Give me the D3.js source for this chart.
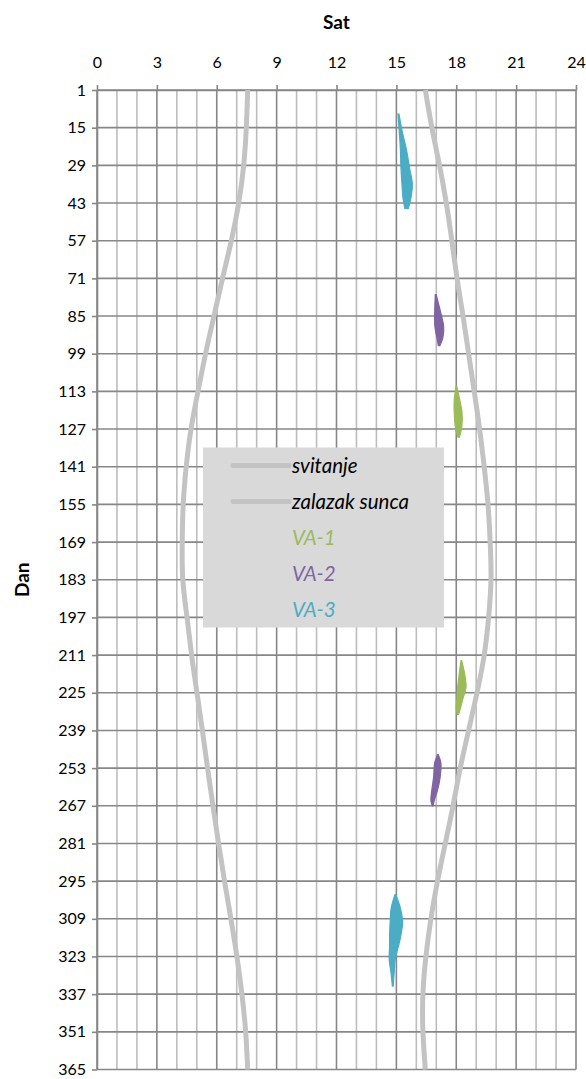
<!DOCTYPE html>
<html>
<head>
<meta charset="utf-8">
<script src="https://cdn.jsdelivr.net/npm/d3@7"></script>
<style>
  html, body { margin: 0; padding: 0; background: #fff; }
  svg { display: block; }
  text { font-family: Lato, "Open Sans", sans-serif; }
</style>
</head>
<body>
<svg id="chart" width="586" height="1079"></svg>
<script>
// ---- data ----
const hourTicks = [0, 3, 6, 9, 12, 15, 18, 21, 24];
const days = [1, 15, 29, 43, 57, 71, 85, 99, 113, 127, 141, 155, 169, 183, 197, 211, 225, 239, 253, 267, 281, 295, 309, 323, 337, 351, 365];
const sunrise = [7.55, 7.48, 7.35, 7.10, 6.73, 6.29, 5.86, 5.44, 5.06, 4.71, 4.47, 4.32, 4.27, 4.30, 4.51, 4.74, 5.01, 5.28, 5.54, 5.81, 6.09, 6.39, 6.71, 7.01, 7.26, 7.45, 7.55];
const sunset = [16.45, 16.78, 17.16, 17.50, 17.78, 18.04, 18.34, 18.62, 18.90, 19.17, 19.40, 19.59, 19.70, 19.74, 19.62, 19.40, 19.04, 18.62, 18.20, 17.84, 17.45, 17.06, 16.73, 16.48, 16.33, 16.33, 16.45];
// [day, start hour, end hour]
const va1 = [
  [[111, 18.00, 18.02], [116, 17.90, 18.17], [121, 17.90, 18.29], [126, 17.95, 18.28], [130, 18.08, 18.16]],
  [[213, 18.24, 18.27], [218, 18.15, 18.42], [223, 18.07, 18.49], [227, 18.04, 18.34], [231, 18.00, 18.20], [233, 18.06, 18.12]]
];
const va2 = [
  [[77, 16.95, 16.99], [84, 16.92, 17.23], [89, 16.93, 17.37], [93, 17.03, 17.33], [96, 17.10, 17.18]],
  [[248, 17.06, 17.10], [251, 16.92, 17.23], [256, 16.87, 17.20], [261, 16.78, 17.07], [265, 16.73, 16.90], [267, 16.80, 16.84]]
];
const va3 = [
  [[10, 15.08, 15.13], [17, 15.15, 15.31], [23, 15.20, 15.50], [30, 15.23, 15.66], [36, 15.28, 15.80], [41, 15.33, 15.73], [45, 15.42, 15.60]],
  [[300, 14.93, 14.97], [305, 14.74, 15.20], [310, 14.69, 15.31], [315, 14.66, 15.23], [319, 14.66, 15.11], [324, 14.64, 14.94], [329, 14.73, 14.89], [334, 14.80, 14.84]]
];
const legendNames = ["svitanje", "zalazak sunca", "VA-1", "VA-2", "VA-3"];

// ---- drawing ----
const svg = d3.select("#chart");
const x = d3.scaleLinear().domain([0, 24]).range([97, 576]);
const y = d3.scaleLinear().domain([1, 365]).range([90, 1069.5]);

const colMajor = "#878787", colMinor = "#bdbdbd";
const lineCol = "#c3c3c3";
const vaCols = ["#9bbb59", "#8064a2", "#4bacc6"];

const grid = svg.append("g");
const allHours = d3.range(0, 25);
grid.selectAll("line.minor").data(allHours.filter(h => h % 3 !== 0)).join("line")
  .attr("x1", d => x(d)).attr("x2", d => x(d))
  .attr("y1", y(1)).attr("y2", y(365))
  .attr("stroke", colMinor).attr("stroke-width", 1.6);
grid.selectAll("line.hz").data(days).join("line")
  .attr("x1", x(0)).attr("x2", x(24))
  .attr("y1", d => y(d)).attr("y2", d => y(d))
  .attr("stroke", colMajor).attr("stroke-width", 1.6);
grid.selectAll("line.major").data(hourTicks).join("line")
  .attr("x1", d => x(d)).attr("x2", d => x(d))
  .attr("y1", y(1)).attr("y2", y(365))
  .attr("stroke", colMajor).attr("stroke-width", 1.6);

// axes
const axT = svg.append("g").attr("transform", `translate(0,${y(1)})`)
  .call(d3.axisTop(x).tickValues(hourTicks).tickSize(5).tickSizeOuter(0).tickPadding(17));
const axL = svg.append("g").attr("transform", `translate(${x(0)},0)`)
  .call(d3.axisLeft(y).tickValues(days).tickSize(5).tickSizeOuter(0).tickPadding(6));
[axT, axL].forEach(a => {
  a.select(".domain").attr("stroke", colMajor).attr("stroke-width", 1.6);
  a.selectAll(".tick line").attr("stroke", colMajor).attr("stroke-width", 1.6);
  a.selectAll(".tick text").attr("font-family", "Lato, sans-serif").attr("font-size", 16).attr("fill", "#000");
});

// titles
svg.append("text").attr("x", (x(0) + x(24)) / 2).attr("y", 29)
  .attr("text-anchor", "middle").attr("font-weight", "bold").attr("font-size", 19).attr("fill", "#000").text("Sat");
svg.append("text").attr("transform", `translate(29,${(y(1) + y(365)) / 2}) rotate(-90)`)
  .attr("text-anchor", "middle").attr("font-weight", "bold").attr("font-size", 19).attr("fill", "#000").text("Dan");

// sun lines
const sunLine = d3.line().x(d => x(d[1])).y(d => y(d[0])).curve(d3.curveNatural);
[sunrise, sunset].forEach(s => {
  svg.append("path").datum(days.map((d, i) => [d, s[i]]))
    .attr("d", sunLine).attr("fill", "none").attr("stroke", lineCol).attr("stroke-width", 5);
});

// VA blobs
const blob = d3.area().y(d => y(d[0])).x0(d => x(d[1])).x1(d => x(d[2])).curve(d3.curveCatmullRom);
[va1, va2, va3].forEach((series, i) => {
  series.forEach(b => {
    svg.append("path").datum(b).attr("d", blob)
      .attr("fill", vaCols[i]).attr("stroke", vaCols[i]).attr("stroke-width", 1.2);
  });
});

// legend
const lg = svg.append("g");
lg.append("rect").attr("x", 203).attr("y", 447.5).attr("width", 241).attr("height", 180).attr("fill", "#d9d9d9");
const rowY = d3.scaleLinear().domain([0, 4]).range([465.5, 609.5]);
legendNames.forEach((name, i) => {
  if (i < 2) {
    lg.append("line").attr("x1", 233).attr("x2", 289).attr("y1", rowY(i)).attr("y2", rowY(i))
      .attr("stroke", lineCol).attr("stroke-width", 5).attr("stroke-linecap", "round");
  }
  lg.append("text").attr("x", 292).attr("y", rowY(i)).attr("dy", "0.35em")
    .attr("font-style", "italic").attr("font-size", 20.5)
    .attr("fill", i < 2 ? "#000" : vaCols[i - 2]).text(name);
});
</script>
</body>
</html>
